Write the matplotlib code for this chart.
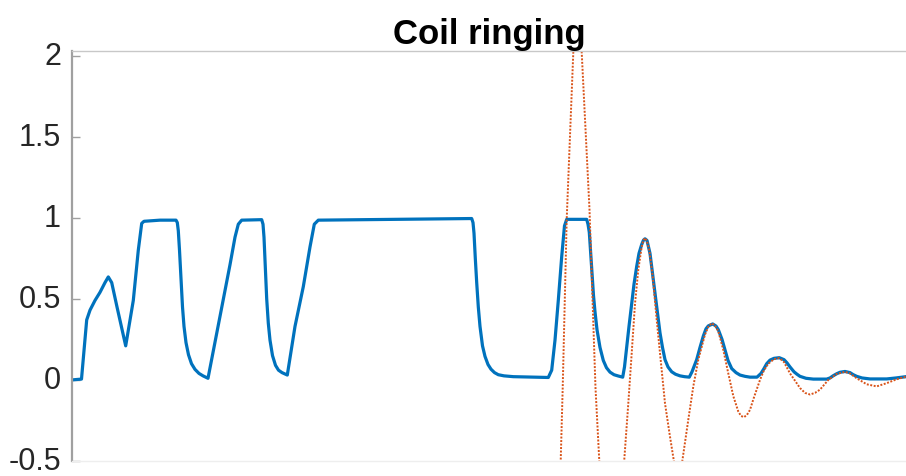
import matplotlib
matplotlib.use('Agg')
import matplotlib.pyplot as plt

# measured coil signal (blue), x in sample units
meas_t = [72, 81.5, 86.7, 90, 95, 100, 105, 108.3, 111.7, 117, 125.7, 133.3, 138.3, 141.7,
          144, 160, 176, 177.3, 178.3, 179.5, 181, 182.5, 184, 186, 188.5, 191.5, 195,
          199, 203, 208, 220, 230, 235, 238.3, 241.7, 261.7, 263, 264, 265.3, 266.7,
          268.3, 270, 272.5, 275.5, 278.5, 282, 287.3, 295, 303.3, 310, 314.3, 318.3,
          400, 471.7, 473, 474, 475.3, 476.7, 478.3, 480, 482.5, 485, 488, 491, 494.5,
          498.3, 504, 513.3, 548.3, 551.7, 555, 558.3, 561.7, 564.5, 566.7, 586.7, 588,
          589.3, 590.7, 592, 593.5, 595, 597, 600, 603.3, 606.5, 610, 614, 618.3, 622.7,
          624.5, 626.7, 629, 631.7, 634, 636.7, 639, 641.7, 643.5, 645, 647, 650, 652.5,
          655, 657.5, 660, 662.5, 665, 668, 671.7, 675.5, 680, 684.5, 689.3, 692, 694.5,
          696.7, 700, 703.3, 706, 708.3, 712.7, 716, 718.3, 722, 725, 728, 731.7, 736,
          740, 745, 750, 757, 761, 764, 766.7, 770, 774, 779.3, 784, 787, 790, 794, 797,
          800, 806, 813.3, 826.7, 830, 833, 836.7, 840, 845, 850, 853, 856.7, 862, 870,
          886.7, 896, 906]
meas_v = [0, 0.005, 0.37, 0.43, 0.49, 0.54, 0.60, 0.635, 0.60, 0.45, 0.21, 0.49, 0.80, 0.965,
          0.978, 0.985, 0.985, 0.97, 0.92, 0.80, 0.62, 0.45, 0.33, 0.23, 0.155, 0.10, 0.065,
          0.04, 0.025, 0.01, 0.39, 0.71, 0.88, 0.96, 0.985, 0.988, 0.96, 0.88, 0.70, 0.50,
          0.35, 0.245, 0.15, 0.09, 0.06, 0.045, 0.03, 0.33, 0.575, 0.82, 0.96, 0.985,
          0.99, 0.995, 0.97, 0.905, 0.75, 0.60, 0.45, 0.33, 0.21, 0.145, 0.095, 0.066, 0.045,
          0.032, 0.025, 0.02, 0.015, 0.06, 0.245, 0.49, 0.76, 0.95, 0.99, 0.99, 0.96,
          0.91, 0.78, 0.65, 0.52, 0.42, 0.31, 0.20, 0.12, 0.075, 0.048, 0.032, 0.024, 0.017,
          0.08, 0.205, 0.33, 0.47, 0.59, 0.70, 0.78, 0.835, 0.862, 0.87, 0.86, 0.78, 0.66,
          0.535, 0.41, 0.29, 0.20, 0.125, 0.08, 0.05, 0.035, 0.025, 0.02, 0.017, 0.05, 0.09,
          0.125, 0.20, 0.27, 0.315, 0.333, 0.345, 0.332, 0.31, 0.25, 0.185, 0.12, 0.07, 0.045,
          0.03, 0.022, 0.017, 0.017, 0.04, 0.07, 0.10, 0.122, 0.133, 0.137, 0.125, 0.105, 0.08, 0.05, 0.035,
          0.022, 0.01, 0.005, 0.005, 0.012, 0.025, 0.038, 0.047, 0.052, 0.045, 0.033, 0.022, 0.012, 0.006,
          0.006, 0.012, 0.02]

# fitted ringing model (orange, dotted)
fit_t = [558, 560.7, 562.7, 566.7, 573.3, 577.5, 581.7, 589.5, 595.5, 599.3, 605, 611, 617,
         624.3, 628.3, 631.7, 635, 638.3, 641.7, 643.3, 645, 647, 649.3, 652.7, 656.7, 660,
         665, 670, 674, 678, 682.3, 688.3, 693.3, 698.3, 705, 708.5, 711.7, 715, 718.3,
         723.3, 728.3, 733.3, 738.3, 741, 744, 747, 750, 753.3, 760, 764, 768.3, 774,
         779.3, 784, 790, 800, 805, 810, 815, 820, 828.3, 836.7, 845, 850, 856.7, 866.7,
         876.7, 886.7, 896.7, 906]
fit_v = [-0.9, -0.5, -0.05, 0.99, 2.02, 2.2, 2.02, 1.05, -0.05, -0.5, -1.1, -1.35, -1.1,
         -0.49, -0.145, 0.165, 0.47, 0.68, 0.82, 0.86, 0.875, 0.855, 0.80, 0.64, 0.37, 0.165,
         -0.145, -0.35, -0.505, -0.56, -0.5, -0.245, -0.04, 0.125, 0.28, 0.33, 0.35, 0.335, 0.30,
         0.185, 0.04, -0.10, -0.195, -0.222, -0.23, -0.215, -0.185, -0.12, 0.0, 0.06, 0.10, 0.128,
         0.135, 0.11, 0.04, -0.05, -0.08, -0.09, -0.08, -0.06, 0.0, 0.037, 0.05, 0.04, 0.01, -0.027,
         -0.04, -0.02, 0.004, 0.02]

y_ticks = [-0.5, 0, 0.5, 1, 1.5, 2]
y_labels = ['-0.5', '0', '0.5', '1', '1.5', '2']

plt.rcParams['font.family'] = ['Liberation Sans', 'DejaVu Sans']

fig = plt.figure(figsize=(9.06, 4.77), dpi=100)
ax = fig.add_axes([72 / 906, 15 / 477, 834 / 906, 410 / 477])

ax.plot(meas_t, meas_v, color='#0072BD', lw=2.3, solid_joinstyle='round')
ax.plot(fit_t, fit_v, color='#D95319', lw=1.4, linestyle=(0, (1, 0.8)))

ax.set_xlim(72, 906)
ax.set_ylim(-0.5, 2.028)
ax.set_xticks([])
ax.set_yticks(y_ticks)
ax.set_yticklabels(y_labels, va='center')
ax.tick_params(axis='y', direction='in', length=6, width=1, color='#a0a0a0',
               labelsize=22, labelcolor='#262626', pad=8)

ax.spines['left'].set_color('#a0a0a0')
ax.spines['left'].set_linewidth(1.6)
ax.spines['top'].set_color('#c8c8c8')
ax.spines['top'].set_linewidth(1)
ax.spines['bottom'].set_color('#eeeeee')
ax.spines['bottom'].set_linewidth(1)
ax.spines['right'].set_visible(False)

ax.set_title('Coil ringing', fontsize=25, fontweight='bold', pad=6)

fig.savefig('out.png', dpi=100)
